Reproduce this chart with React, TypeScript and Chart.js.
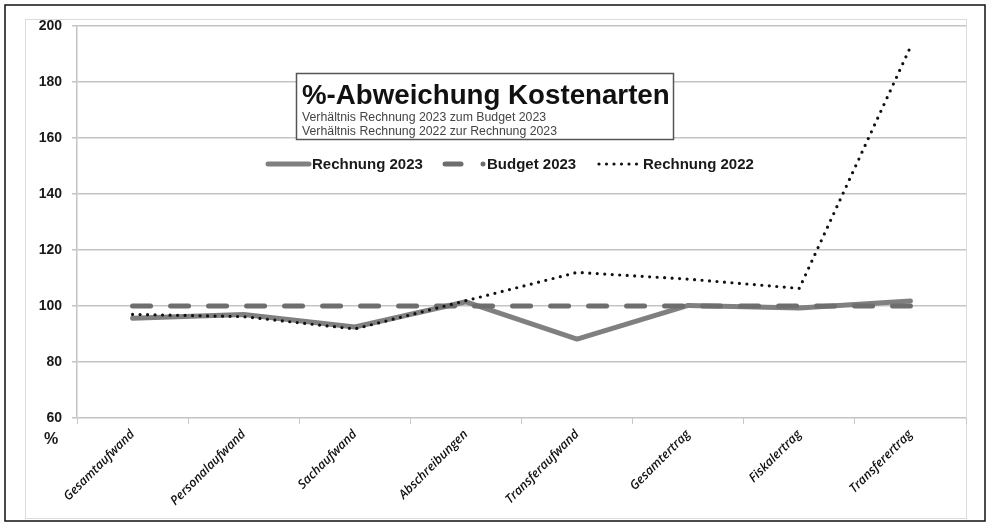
import React, { useEffect, useRef } from "react";
import { Chart, registerables } from "chart.js";

Chart.register(...registerables);

const categories = [
  "Gesamtaufwand",
  "Personalaufwand",
  "Sachaufwand",
  "Abschreibungen",
  "Transferaufwand",
  "Gesamtertrag",
  "Fiskalertrag",
  "Transferertrag",
];
const rechnung2023 = [95.6, 97.0, 92.5, 101.5, 88.2, 100.2, 99.3, 101.8];
const budget2023 = [100, 100, 100, 100, 100, 100, 100, 100];
const rechnung2022 = [97.0, 96.2, 91.8, 101.9, 112.0, 109.6, 106.3, 192.5];
const seriesNames = ["Rechnung 2023", "Budget 2023", "Rechnung 2022"];
const titleText = "%-Abweichung Kostenarten";
const subtitleLines = [
  "Verhältnis Rechnung 2023 zum Budget 2023",
  "Verhältnis Rechnung 2022 zur Rechnung 2023",
];
const yUnit = "%";
const yMin = 60;
const yMax = 200;
const yStep = 20;

const SOLID = "#808080";
const DASHED = "#6e6e6e";
const DOTTED = "#111111";

const decorPlugin = {
  id: "decor",
  beforeDraw(chart: any) {
    const ctx = chart.ctx;
    ctx.save();
    ctx.fillStyle = "#ffffff";
    ctx.fillRect(0, 0, chart.width, chart.height);
    ctx.strokeStyle = "#dcdcdc";
    ctx.lineWidth = 1;
    ctx.strokeRect(25.5, 19.5, 941, 499);
    ctx.restore();
  },
  afterDraw(chart: any) {
    const ctx = chart.ctx;
    ctx.save();
    // outer frame
    ctx.strokeStyle = "#111";
    ctx.lineWidth = 1.5;
    ctx.strokeRect(5, 5, 980, 516);

    // title box
    ctx.fillStyle = "#ffffff";
    ctx.fillRect(296, 73, 378, 67);
    ctx.strokeStyle = "#555";
    ctx.lineWidth = 1.5;
    ctx.strokeRect(296.5, 73.5, 377, 66);
    ctx.fillStyle = "#111";
    ctx.textBaseline = "alphabetic";
    ctx.textAlign = "left";
    ctx.font = "bold 27.7px 'Liberation Sans', Arial, sans-serif";
    ctx.fillText(titleText, 302, 104);
    ctx.fillStyle = "#444";
    ctx.font = "12.3px 'Liberation Sans', Arial, sans-serif";
    ctx.fillText(subtitleLines[0], 302, 121);
    ctx.fillText(subtitleLines[1], 302, 135);

    // legend
    const ly = 164;
    ctx.lineCap = "round";
    ctx.setLineDash([]);
    ctx.strokeStyle = SOLID;
    ctx.lineWidth = 5;
    ctx.beginPath();
    ctx.moveTo(268, ly);
    ctx.lineTo(309, ly);
    ctx.stroke();

    ctx.strokeStyle = DASHED;
    ctx.beginPath();
    ctx.moveTo(445, ly);
    ctx.lineTo(461, ly);
    ctx.stroke();
    ctx.fillStyle = DASHED;
    ctx.beginPath();
    ctx.arc(483, ly, 2.5, 0, Math.PI * 2);
    ctx.fill();

    ctx.fillStyle = DOTTED;
    for (let x = 599; x <= 640; x += 7.5) {
      ctx.beginPath();
      ctx.arc(x, ly, 1.6, 0, Math.PI * 2);
      ctx.fill();
    }

    ctx.fillStyle = "#1a1a1a";
    ctx.font = "bold 15px 'Liberation Sans', Arial, sans-serif";
    ctx.textBaseline = "middle";
    ctx.fillText(seriesNames[0], 312, ly + 1);
    ctx.fillText(seriesNames[1], 487, ly + 1);
    ctx.fillText(seriesNames[2], 643, ly + 1);

    // unit label
    ctx.font = "bold 16px 'Liberation Sans', Arial, sans-serif";
    ctx.textAlign = "center";
    ctx.fillText(yUnit, 51, 440);
    ctx.restore();
  },
};

export default function App() {
  const ref = useRef<HTMLCanvasElement>(null);
  useEffect(() => {
    const canvas = ref.current;
    if (!canvas) return;
    const chart = new Chart(canvas, {
      type: "line",
      data: {
        labels: categories,
        datasets: [
          {
            label: seriesNames[2],
            data: rechnung2022,
            borderColor: DOTTED,
            borderWidth: 3.2,
            borderDash: [0, 7.5],
            borderCapStyle: "round",
            pointRadius: 0,
            tension: 0,
            order: 0,
          },
          {
            label: seriesNames[1],
            data: budget2023,
            borderColor: DASHED,
            borderWidth: 5,
            borderDash: [18, 20],
            borderCapStyle: "round",
            pointRadius: 0,
            tension: 0,
            order: 1,
          },
          {
            label: seriesNames[0],
            data: rechnung2023,
            borderColor: SOLID,
            borderWidth: 5,
            borderJoinStyle: "round",
            borderCapStyle: "round",
            pointRadius: 0,
            tension: 0,
            order: 2,
          },
        ],
      },
      options: {
        responsive: false,
        animation: false,
        maintainAspectRatio: false,
        layout: { padding: { left: 0, right: 23, top: 26, bottom: 0 } },
        plugins: {
          legend: { display: false },
          tooltip: { enabled: false },
          title: { display: false },
        },
        scales: {
          x: {
            offset: true,
            grid: {
              offset: true,
              drawOnChartArea: false,
              drawTicks: true,
              tickLength: 6,
              color: "#c8c8c8",
            },
            border: { display: false },
            ticks: {
              autoSkip: false,
              minRotation: 45,
              maxRotation: 45,
              padding: 3,
              color: "#111",
              font: { family: "'Open Sans', sans-serif", size: 12.5, style: "italic", weight: "600" },
            },
            afterFit(scale: any) {
              scale.height = 108;
            },
          },
          y: {
            min: yMin,
            max: yMax,
            ticks: {
              stepSize: yStep,
              padding: 10,
              color: "#1a1a1a",
              font: { family: "'Liberation Sans', Arial, sans-serif", size: 14, weight: "bold" },
            },
            grid: { color: "#c4c4c4", lineWidth: 1.5, tickLength: 5 },
            border: { color: "#c4c4c4", width: 1.5 },
            afterFit(scale: any) {
              scale.width = 77;
            },
          },
        },
      },
      plugins: [decorPlugin],
    } as any);
    return () => chart.destroy();
  }, []);
  return (
    <div style={{ position: "absolute", left: 0, top: 0, width: 989, height: 526 }}>
      <canvas ref={ref} width={989} height={526} style={{ display: "block" }} />
    </div>
  );
}
